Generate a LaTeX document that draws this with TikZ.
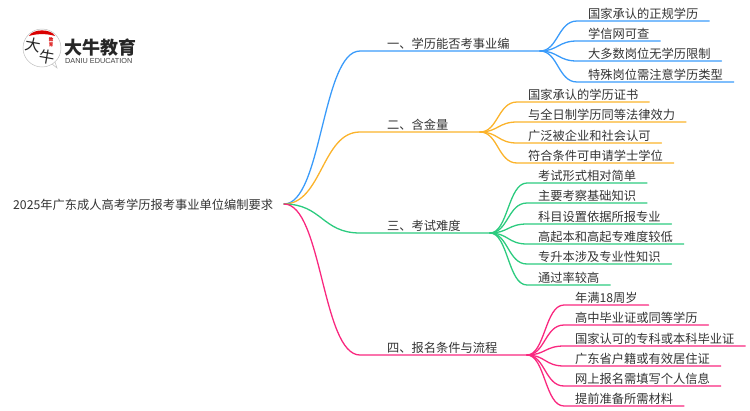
\documentclass[tikz,border=0pt]{standalone}
\usepackage{fontspec}
\setmainfont{Noto Sans CJK SC}
\newfontfamily\logolatin{Liberation Sans}
\usetikzlibrary{positioning}
\definecolor{bluelink}{HTML}{3A9BFA}
\definecolor{orangelink}{HTML}{FBB32B}
\definecolor{greenlink}{HTML}{2CCB7F}
\definecolor{pinklink}{HTML}{F9287F}
\definecolor{inktext}{HTML}{333333}
\tikzset{
  treenode/.style = {inner ysep=0.8pt, text height=10pt, text depth=2pt,
    font=\fontsize{12.25}{14}\selectfont, text=inktext},
  arn_l/.style = {treenode, inner xsep=10.8pt, anchor=south west},% leaf
  arn_b/.style = {treenode, inner xsep=27pt, anchor=south west},% branch
  link/.style = {line width=1.3pt, line cap=round}
}
\begin{document}
\begin{tikzpicture}[x=1pt,y=-1pt]
\useasboundingbox (0,0) rectangle (750,410);
% root
\node [treenode, anchor=west, inner xsep=0pt] (root) at (13,205.5) {2025年广东成人高考学历报考事业单位编制要求};
\coordinate (rootout) at (284,204);
% one
\node [arn_b] (b1) at (360,51) {一、学历能否考事业编};
\coordinate (h1) at (540,51);
\node [arn_l] (b1a) at (577,21) {国家承认的正规学历};
\node [arn_l] (b1b) at (577,41) {学信网可查};
\node [arn_l] (b1c) at (577,61) {大多数岗位无学历限制};
\node [arn_l] (b1d) at (577,82) {特殊岗位需注意学历类型};
\draw [link, bluelink] (rootout) .. controls (322,204) and (322,51) .. (b1.south west) -- (h1);
\foreach \leaf in {b1a,b1b,b1c,b1d}
  \draw [link, bluelink] (h1) .. controls (558,51) and (558,51 |- \leaf.south west) .. (\leaf.south west) -- (\leaf.south east);
% two
\node [arn_b] (b2) at (360,132) {二、含金量};
\coordinate (h2) at (480,132);
\node [arn_l] (b2a) at (517,102) {国家承认的学历证书};
\node [arn_l] (b2b) at (517,122) {与全日制学历同等法律效力};
\node [arn_l] (b2c) at (517,143) {广泛被企业和社会认可};
\node [arn_l] (b2d) at (517,163) {符合条件可申请学士学位};
\draw [link, orangelink] (rootout) .. controls (322,204) and (322,132) .. (b2.south west) -- (h2);
\foreach \leaf in {b2a,b2b,b2c,b2d}
  \draw [link, orangelink] (h2) .. controls (498,132) and (498,132 |- \leaf.south west) .. (\leaf.south west) -- (\leaf.south east);
% three
\node [arn_b] (b3) at (360,233) {三、考试难度};
\coordinate (h3) at (490,233);
\node [arn_l] (b3a) at (527,183) {考试形式相对简单};
\node [arn_l] (b3b) at (527,203) {主要考察基础知识};
\node [arn_l] (b3c) at (527,224) {科目设置依据所报专业};
\node [arn_l] (b3d) at (527,244) {高起本和高起专难度较低};
\node [arn_l] (b3e) at (527,264) {专升本涉及专业性知识};
\node [arn_l] (b3f) at (527,285) {通过率较高};
\draw [link, greenlink] (rootout) .. controls (322,204) and (322,233) .. (b3.south west) -- (h3);
\foreach \leaf in {b3a,b3b,b3c,b3d,b3e,b3f}
  \draw [link, greenlink] (h3) .. controls (508,233) and (508,233 |- \leaf.south west) .. (\leaf.south west) -- (\leaf.south east);
% four
\node [arn_b] (b4) at (360,355) {四、报名条件与流程};
\coordinate (h4) at (527,355);
\node [arn_l] (b4a) at (564,305) {年满18周岁};
\node [arn_l] (b4b) at (564,325) {高中毕业证或同等学历};
\node [arn_l] (b4c) at (564,346) {国家认可的专科或本科毕业证};
\node [arn_l] (b4d) at (564,366) {广东省户籍或有效居住证};
\node [arn_l] (b4e) at (564,386) {网上报名需填写个人信息};
\node [arn_l] (b4f) at (564,406) {提前准备所需材料};
\draw [link, pinklink] (rootout) .. controls (322,204) and (322,355) .. (b4.south west) -- (h4);
\foreach \leaf in {b4a,b4b,b4c,b4d,b4e,b4f}
  \draw [link, pinklink] (h4) .. controls (545,355) and (545,355 |- \leaf.south west) .. (\leaf.south west) -- (\leaf.south east);
% logo
\draw [black!25, line width=0.5pt, fill=white] (42,48) circle (19);
\draw [black!25, line width=0.5pt] (52,64) -- (57,68) -- (55,62);
\fill [red!85!black] (29,36) .. controls (33,28.5) and (51,28.5) .. (55,36) .. controls (47,33.5) and (37,33.5) .. cycle;
\node [inner sep=0pt, font=\fontsize{15.5}{15}\selectfont, text=black!85, rotate=-10] (logoa) at (33,45) {大};
\node [inner sep=0pt, font=\fontsize{15.5}{15}\selectfont, text=black!85, rotate=-10] (logob) at (47,57) {牛};
\node [inner sep=0pt, align=center, font=\fontsize{4.5}{4.8}\selectfont\bfseries, text=red!85!black] (logoc) at (51,42) {教\\育};
\node [inner sep=0pt, anchor=west, text=black!85, font=\fontsize{18}{18}\selectfont\bfseries] (logotitle) at (64,47.5) {大牛教育};
\node [inner sep=0pt, anchor=west, text=black!75, font=\logolatin\fontsize{7.3}{8}\selectfont] (logosub) at (65,60.5) {DANIU EDUCATION};
\end{tikzpicture}
\end{document}
